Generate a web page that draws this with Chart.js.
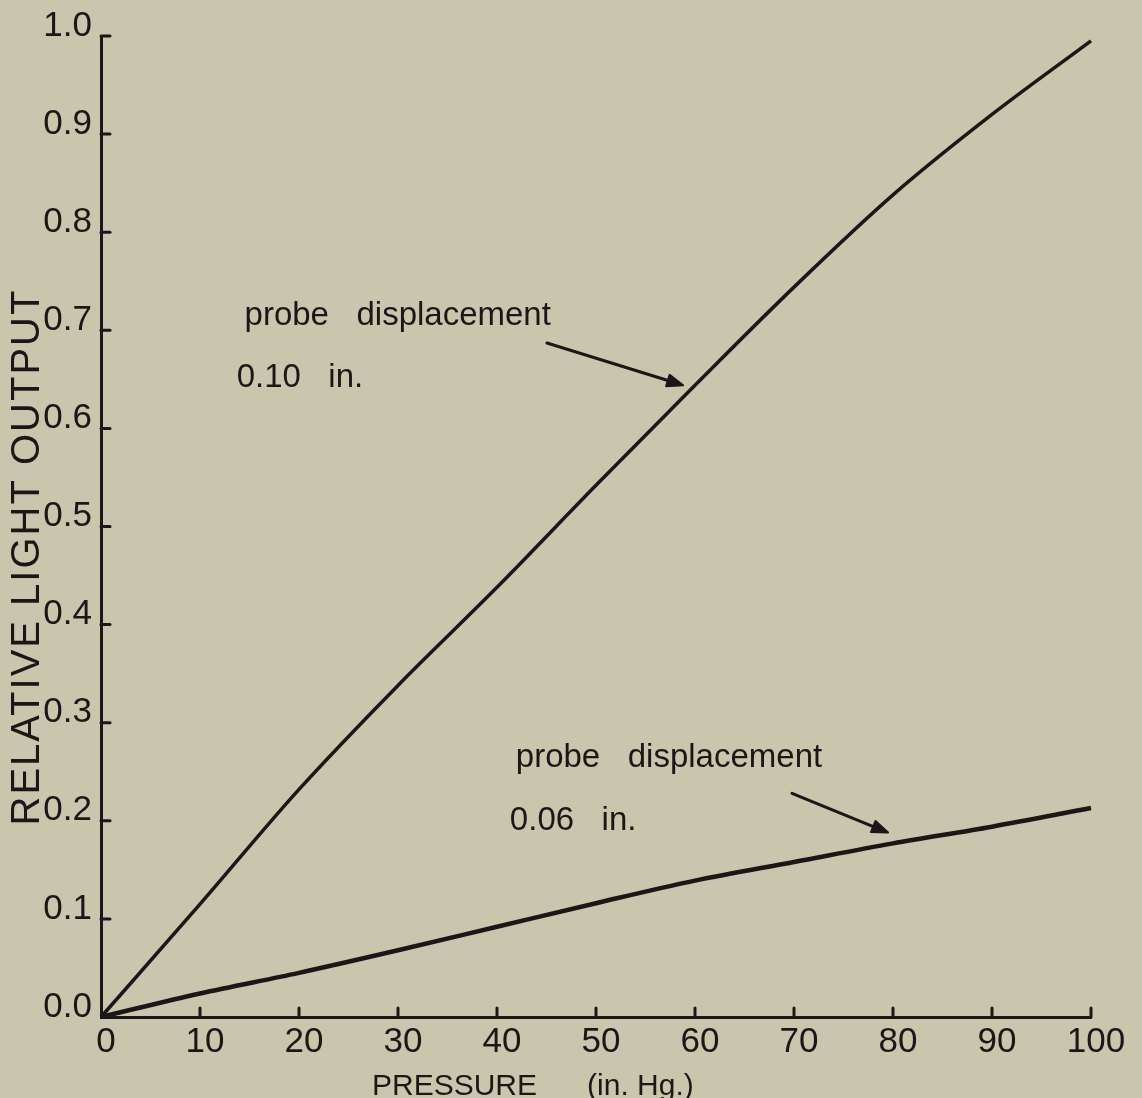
<!DOCTYPE html>
<html>
<head>
<meta charset="utf-8">
<script src="https://cdn.jsdelivr.net/npm/chart.js@4.4.0/dist/chart.umd.min.js"></script>
<style>
  html, body { margin: 0; padding: 0; background: #c9c6ae; }
  #wrap { width: 1142px; height: 1098px; }
</style>
</head>
<body>
<div id="wrap"><canvas id="mychart" width="1142" height="1098"></canvas></div>
<script>
// -------- data --------
const pressure = [0, 10, 20, 30, 40, 50, 60, 70, 80, 90, 100];
const output010 = [0, 0.115, 0.232, 0.338, 0.438, 0.542, 0.644, 0.744, 0.838, 0.920, 0.995];
const output006 = [0, 0.024, 0.045, 0.068, 0.092, 0.116, 0.139, 0.158, 0.177, 0.194, 0.213];
const xTickLabels = ['0', '10', '20', '30', '40', '50', '60', '70', '80', '90', '100'];
const yTickLabels = ['0.0', '0.1', '0.2', '0.3', '0.4', '0.5', '0.6', '0.7', '0.8', '0.9', '1.0'];
const noteLines010 = ['probe   displacement', '0.10   in.'];
const noteLines006 = ['probe   displacement', '0.06   in.'];
const xTitle = 'PRESSURE      (in. Hg.)';
const yTitle = 'RELATIVE LIGHT OUTPUT';

const INK = '#1c1717';
const PAPER = '#c9c6ae';
const FONT = '"Liberation Sans", Arial, sans-serif';

// draws paper, inside ticks, notes with arrows, and axis titles
const paperPlugin = {
  id: 'paper',
  beforeDraw(chart) {
    const ctx = chart.ctx;
    ctx.save();
    ctx.fillStyle = PAPER;
    ctx.fillRect(0, 0, chart.width, chart.height);
    ctx.restore();
  },
  afterDraw(chart) {
    const ctx = chart.ctx;
    const xs = chart.scales.x, ys = chart.scales.y;
    const area = chart.chartArea;
    ctx.save();
    ctx.strokeStyle = INK;
    ctx.fillStyle = INK;
    ctx.lineWidth = 3;
    ctx.lineCap = 'round';

    // ticks pointing into the plot
    xs.ticks.forEach(t => {
      if (t.value === 0) return;
      const px = xs.getPixelForValue(t.value);
      ctx.beginPath();
      ctx.moveTo(px, area.bottom);
      ctx.lineTo(px, area.bottom - 9);
      ctx.stroke();
    });
    ys.ticks.forEach(t => {
      if (t.value === 0) return;
      const py = ys.getPixelForValue(t.value);
      ctx.beginPath();
      ctx.moveTo(area.left, py);
      ctx.lineTo(area.left + 9, py);
      ctx.stroke();
    });

    // notes
    const note = (lines, x, y) => {
      ctx.font = '33px ' + FONT;
      ctx.textAlign = 'left';
      ctx.textBaseline = 'alphabetic';
      lines.forEach((s, i) => {
        ctx.fillText(s, xs.getPixelForValue(x[i]), ys.getPixelForValue(y[i]));
      });
    };
    note(noteLines010, [14.5, 13.7], [0.705, 0.642]);
    note(noteLines006, [41.9, 41.3], [0.255, 0.191]);

    const arrow = (x0, y0, x1, y1) => {
      const ax = xs.getPixelForValue(x0), ay = ys.getPixelForValue(y0);
      const bx = xs.getPixelForValue(x1), by = ys.getPixelForValue(y1);
      const ang = Math.atan2(by - ay, bx - ax);
      const c = Math.cos(ang), s = Math.sin(ang);
      ctx.lineWidth = 3;
      ctx.beginPath();
      ctx.moveTo(ax, ay);
      ctx.lineTo(bx - 10 * c, by - 10 * s);
      ctx.stroke();
      ctx.lineJoin = 'round';
      ctx.lineWidth = 2;
      ctx.beginPath();
      ctx.moveTo(bx, by);
      ctx.lineTo(bx - 16 * c + 6 * s, by - 16 * s - 6 * c);
      ctx.lineTo(bx - 16 * c - 6 * s, by - 16 * s + 6 * c);
      ctx.closePath();
      ctx.fill();
      ctx.stroke();
    };
    arrow(45.05, 0.687, 58.8, 0.644);
    arrow(69.8, 0.228, 79.5, 0.188);

    // axis titles
    ctx.font = '30px ' + FONT;
    ctx.textAlign = 'left';
    ctx.textBaseline = 'alphabetic';
    ctx.fillText(xTitle, 372, 1095);

    ctx.translate(28, 557);
    ctx.rotate(-Math.PI / 2);
    ctx.font = '40px ' + FONT;
    ctx.textAlign = 'center';
    ctx.textBaseline = 'middle';
    ctx.letterSpacing = '2px';
    ctx.fillText(yTitle, 0, 0);
    ctx.restore();
  }
};

const config = {
  type: 'line',
  data: {
    labels: pressure,
    datasets: [
      {
        label: 'probe displacement 0.10 in.',
        data: pressure.map((p, i) => ({ x: p, y: output010[i] })),
        borderColor: INK,
        borderWidth: 3.5,
        pointRadius: 0,
        cubicInterpolationMode: 'monotone',
        clip: false
      },
      {
        label: 'probe displacement 0.06 in.',
        data: pressure.map((p, i) => ({ x: p, y: output006[i] })),
        borderColor: INK,
        borderWidth: 4.5,
        pointRadius: 0,
        cubicInterpolationMode: 'monotone',
        clip: false
      }
    ]
  },
  options: {
    responsive: false,
    devicePixelRatio: 1,
    animation: false,
    layout: { padding: { left: 0, top: 36, right: 51, bottom: 0 } },
    plugins: {
      legend: { display: false },
      tooltip: { enabled: false },
      title: { display: false }
    },
    scales: {
      x: {
        type: 'linear',
        min: 0,
        max: 100,
        afterFit: s => { s.height = 81; },
        ticks: {
          stepSize: 10,
          color: INK,
          font: { family: FONT, size: 35 },
          padding: 4,
          labelOffset: 5,
          maxRotation: 0,
          callback: (v) => xTickLabels[Math.round(v / 10)]
        },
        grid: { display: true, drawOnChartArea: false, drawTicks: false },
        border: { display: true, color: INK, width: 3 }
      },
      y: {
        type: 'linear',
        min: 0,
        max: 1,
        afterFit: s => { s.width = 101; },
        ticks: {
          stepSize: 0.1,
          color: INK,
          font: { family: FONT, size: 35 },
          padding: 9,
          labelOffset: -10,
          callback: (v) => yTickLabels[Math.round(v * 10)]
        },
        grid: { display: true, drawOnChartArea: false, drawTicks: false },
        border: { display: true, color: INK, width: 3 }
      }
    }
  },
  plugins: [paperPlugin]
};

const mychart = document.getElementById('mychart');
const chart = new Chart(mychart, config);
</script>
</body>
</html>
